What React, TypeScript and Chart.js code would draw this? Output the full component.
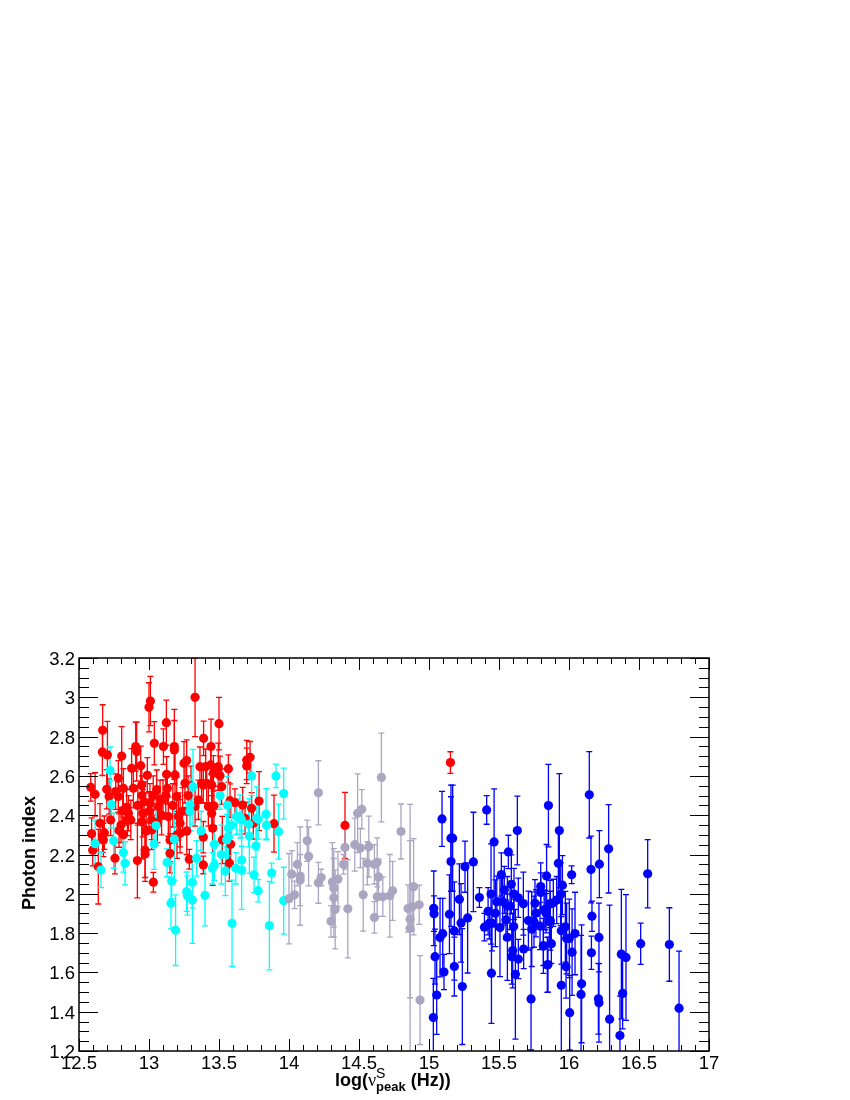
import React, { useEffect, useRef } from "react";
import { Chart, registerables } from "chart.js";

Chart.register(...registerables);

// each row: log(nu_peak), photon index, error on the index
const bluePoints = [
[15.031,1.37,.2],[15.034,1.926,.19],[15.036,1.899,.09],[15.043,1.68,.14],[15.055,1.485,.2],[15.079,1.777,.2],[15.098,1.797,.18],[15.093,2.381,.14],[15.107,1.602,.09],[15.146,1.896,.2],[15.157,2.283,.27],[15.169,2.283,.27],[15.157,2.164,.33],[15.181,1.811,.25],[15.181,1.63,.15],[15.217,1.972,.18],[15.229,1.852,.2],[15.238,1.528,.295],[15.257,2.138,.13],[15.276,1.877,.28],[15.317,2.162,.253],[15.36,1.981,.05],[15.412,2.427,.073],[15.396,1.83,.07],[15.422,1.911,.12],[15.431,1.85,.08],[15.443,1.999,.255],[15.446,1.596,.255],[15.465,2.264,.27],[15.45,1.85,.14],[15.474,1.901,.17],[15.484,1.96,.13],[15.507,1.828,.25],[15.517,2.098,.11],[15.526,1.96,.12],[15.538,2.02,.12],[15.55,1.867,.1],[15.56,1.938,.15],[15.56,1.779,.22],[15.567,2.213,.085],[15.579,1.938,.12],[15.588,2.048,.15],[15.591,1.68,.14],[15.598,1.711,.19],[15.605,1.833,.14],[15.617,1.59,.33],[15.631,2.322,.175],[15.607,1.999,.13],[15.638,1.98,.1],[15.638,1.668,.1],[15.674,1.95,.16],[15.676,1.719,.1],[15.71,1.864,.15],[15.729,1.465,.26],[15.734,1.82,.19],[15.757,1.952,.12],[15.764,1.901,.12],[15.75,1.858,.13],[15.793,1.836,.12],[15.798,2.037,.12],[15.798,2.006,.1],[15.817,1.735,.14],[15.822,1.918,.1],[15.836,1.901,.1],[15.84,2.091,.16],[15.853,2.449,.21],[15.845,1.638,.14],[15.86,1.858,.11],
[15.931,2.322,.29],[15.924,2.155,.17],[15.953,2.044,.15],[15.941,1.998,.16],[15.912,1.968,.12],[15.888,1.954,.12],[15.864,1.948,.12],[15.829,1.917,.1],[15.867,1.863,.15],[15.945,1.534,.35],[15.945,1.812,.17],[15.974,1.832,.18],[15.983,1.773,.18],[16.002,1.773,.2],[16.019,2.097,.045],[16.022,1.703,.22],[16.043,1.798,.21],[15.979,1.629,.16],[16.005,1.395,.19],[15.874,1.746,.1],[15.85,1.64,.14],[15.817,1.735,.1],[16.09,1.542,.3],[16.086,1.488,.3],[16.145,2.504,.22],[16.157,2.124,.17],[16.164,1.886,.077],[16.16,1.7,.085],[16.217,2.151,.17],[16.214,1.778,.175],[16.21,1.466,.18],[16.214,1.445,.2],[16.283,2.229,.225],[16.29,1.362,.58],[16.364,1.279,.2],[16.374,1.693,.33],[16.407,1.676,.32],[16.383,1.493,.18],[16.512,1.746,.105],[16.562,2.102,.174],[16.717,1.742,.187],[16.786,1.418,.29]
];

const redPoints = [
[15.153,2.668,.055],[14.4,2.348,.168],
[12.584,2.542,.07],[12.615,2.506,.11],[12.59,2.306,.08],[12.598,2.222,.08],[12.638,2.138,.19],[12.65,2.359,.1],[12.669,2.832,.13],[12.667,2.722,.12],[12.703,2.707,.17],[12.698,2.532,.1],[12.681,2.311,.085],[12.674,2.274,.085],[12.669,2.291,.08],[12.715,2.495,.09],[12.726,2.376,.08],[12.757,2.181,.08],[12.781,2.588,.09],[12.805,2.701,.15],[12.762,2.52,.09],[12.781,2.495,.08],[12.786,2.322,.085],[12.817,2.537,.1],[12.817,2.3,.09],[12.812,2.423,.1],[12.853,2.41,.09],[12.846,2.376,.08],[12.87,2.376,.1],[12.876,2.639,.1],[12.888,2.537,.1],[12.905,2.749,.125],[12.912,2.724,.15],[12.917,2.169,.19],[12.941,2.652,.1],[12.948,2.554,.1],[12.955,2.41,.12],[12.948,2.367,.19],[12.972,2.223,.14],[12.972,2.203,.14],[12.965,2.469,.1],[12.988,2.603,.09],[13.0,2.949,.125],[13.01,2.981,.125],[13.007,2.461,.1],[13.019,2.376,.1],[13.031,2.059,.05],[13.038,2.766,.11],[13.055,2.53,.1],[13.019,2.325,.1],[13.067,2.444,.1],[13.079,2.478,.1],[13.103,2.749,.09],[13.124,2.871,.115],[13.126,2.608,.09],[13.131,2.537,.08],[13.138,2.393,.1],[13.15,2.274,.11],[13.15,2.206,.1],[13.181,2.749,.19],[13.181,2.732,.15],[13.186,2.605,.12],[13.198,2.495,.1],[13.21,2.393,.12],[13.222,2.359,.12],[13.222,2.308,.1],[13.25,2.664,.11],[13.269,2.678,.105],[13.257,2.562,.1],[13.288,2.176,.05],[13.329,3.0,.2],
[13.5,2.866,.134],[13.39,2.791,.088],[13.443,2.749,.14],[13.364,2.647,.1],[13.405,2.647,.09],[13.44,2.656,.1],[13.46,2.613,.09],[13.495,2.647,.12],[13.507,2.601,.1],[13.567,2.637,.07],[13.698,2.681,.1],[13.722,2.695,.08],[13.698,2.651,.09],[13.376,2.562,.1],[13.412,2.562,.1],[13.448,2.554,.09],[13.388,2.554,.09],[13.519,2.545,.09],[13.353,2.478,.1],[13.329,2.444,.1],[13.424,2.444,.1],[13.464,2.447,.1],[13.448,2.41,.09],[13.455,2.333,.29],[13.388,2.288,.08],[13.388,2.147,.045],[13.574,2.155,.09],[13.524,2.274,.12],[13.583,2.252,.09],[13.579,2.474,.085],[13.614,2.464,.07],[13.669,2.452,.09],[13.733,2.435,.08],[13.786,2.472,.15],[13.893,2.357,.145],[13.686,2.384,.08],[13.745,2.359,.08],
[12.95,2.5,.1],[13.03,2.5,.1],[13.1,2.48,.1],[12.92,2.45,.1],[13.0,2.42,.1],[12.84,2.44,.09],[12.8,2.35,.09],[13.09,2.4,.1],[13.17,2.45,.11],[13.24,2.42,.12],[13.28,2.5,.1],[13.3,2.55,.1],[13.27,2.32,.12],[13.2,2.3,.12],[13.06,2.36,.1],[12.98,2.32,.1],[13.12,2.5,.1]
];

const cyanPoints = [
[13.733,2.6,.1],[13.907,2.6,.06],[13.962,2.51,.13],[13.926,2.316,.14],[13.836,2.405,.13],[13.84,2.349,.07],[13.876,2.106,.05],[13.962,1.965,.17],[13.86,1.838,.225],[13.593,1.85,.22],[13.78,2.016,.057],[13.75,2.096,.09],[13.764,2.244,.14],[13.77,2.384,.16],[13.78,2.379,.1],[13.717,2.294,.19],[13.712,2.354,.115],[13.662,2.121,.2],[13.662,2.172,.07],[13.62,2.13,.08],[13.545,2.116,.125],[13.517,2.2,.15],[13.467,2.252,.08],[13.467,2.147,.08],[13.453,2.13,.08],[13.4,1.992,.155],[13.372,2.32,.1],[13.34,2.18,.09],[13.31,2.058,.13],[13.31,1.968,.22],[13.314,2.545,.19],[13.507,2.5,.07],[13.56,2.452,.145],[13.293,2.452,.13],[13.293,2.42,.1],[13.567,2.333,.14],[13.59,2.35,.11],[13.567,2.29,.15],[13.555,2.274,.13],[13.626,2.393,.09],[13.65,2.393,.11],[13.662,2.376,.09],
[12.722,2.627,.12],[12.729,2.455,.12],[12.615,2.255,.12],[12.657,2.121,.09],[12.748,2.27,.14],[12.817,2.21,.1],[12.829,2.155,.11],[13.05,2.347,.1],[13.036,2.254,.13],[13.181,2.279,.21],[13.129,2.159,.07],[13.162,2.065,.09],[13.157,1.952,.13],[13.269,2.011,.1],[13.274,1.991,.1],[13.19,1.815,.18]
];

const grayPoints = [
[14.0,1.975,.23],[14.04,1.995,.07],[14.02,2.1,.12],[14.06,2.15,.11],[14.08,2.09,.25],[14.08,2.07,.13],[14.13,2.27,.105],[14.14,2.19,.15],[14.21,2.514,.163],[14.21,2.056,.104],[14.23,2.083,.042],[14.3,1.86,.08],[14.31,2.06,.2],[14.32,2.03,.2],[14.32,1.98,.2],[14.33,1.92,.2],[14.35,2.075,.14],[14.4,2.236,.11],[14.39,2.15,.05],[14.42,1.924,.25],[14.47,2.25,.135],[14.49,2.41,.2],[14.52,2.43,.1],[14.51,2.233,.1],[14.53,1.995,.185],[14.57,2.24,.155],[14.56,2.155,.11],[14.61,1.88,.08],[14.61,2.15,.1],[14.63,2.16,.125],[14.64,2.086,.09],[14.63,1.985,.1],[14.66,2.592,.226],[14.67,1.985,.1],[14.72,1.99,.21],[14.74,2.015,.15],[14.8,2.317,.14],[14.85,1.925,.12],[14.89,2.036,.245],[14.88,1.934,.12],[14.865,1.871,.4],[14.865,1.825,.63],[14.93,1.944,.1],[14.936,1.459,.226]
];

const xTickLabels: Record<string, string> = { "12.5": "12.5", "13": "13", "13.5": "13.5", "14": "14", "14.5": "14.5", "15": "15", "15.5": "15.5", "16": "16", "16.5": "16.5", "17": "17" };
const xAxisRange = [12.5, 17];
const yAxisRange = [1.2, 3.2];
const yAxisTitle = "Photon index";
const FONT = '"Liberation Sans", Arial, sans-serif';

const series = [
  { name: "HBL", rows: bluePoints, color: "#0000ff" },
  { name: "LBL", rows: redPoints, color: "#ff0000" },
  { name: "FSRQ", rows: cyanPoints, color: "#00ffff" },
  { name: "IBL", rows: grayPoints, color: "#aaa6c2" },
];

const framePlugin = {
  id: "frame",
  // error bars are drawn from the same rows, through the chart's scales
  beforeDatasetsDraw(chart: any) {
    const { ctx, chartArea: a, scales } = chart;
    ctx.save();
    ctx.beginPath();
    ctx.rect(a.left, a.top, a.right - a.left, a.bottom - a.top);
    ctx.clip();
    ctx.lineWidth = 1.3;
    series.forEach((s) => {
      ctx.strokeStyle = s.color;
      s.rows.forEach(([x, y, e]) => {
        const px = scales.x.getPixelForValue(x);
        const hi = scales.y.getPixelForValue(y + e);
        const lo = scales.y.getPixelForValue(y - e);
        ctx.beginPath();
        ctx.moveTo(px, hi);
        ctx.lineTo(px, lo);
        ctx.moveTo(px - 3, hi);
        ctx.lineTo(px + 3, hi);
        ctx.moveTo(px - 3, lo);
        ctx.lineTo(px + 3, lo);
        ctx.stroke();
      });
    });
    ctx.restore();
  },
  afterDraw(chart: any) {
    const { ctx, chartArea: a, scales } = chart;
    ctx.save();
    ctx.strokeStyle = "#000";
    ctx.lineWidth = 1;
    ctx.beginPath();
    for (let i = 0; i <= 45; i++) {
      const v = xAxisRange[0] + i * 0.1;
      const px = Math.round(scales.x.getPixelForValue(v)) + 0.5;
      const len = i % 5 === 0 ? 12 : 6;
      ctx.moveTo(px, a.bottom);
      ctx.lineTo(px, a.bottom - len);
      ctx.moveTo(px, a.top);
      ctx.lineTo(px, a.top + len);
    }
    for (let i = 0; i <= 40; i++) {
      const v = yAxisRange[0] + i * 0.05;
      const py = Math.round(scales.y.getPixelForValue(v)) + 0.5;
      const len = i % 4 === 0 ? 19 : 10;
      ctx.moveTo(a.left, py);
      ctx.lineTo(a.left + len, py);
      ctx.moveTo(a.right, py);
      ctx.lineTo(a.right - len, py);
    }
    ctx.stroke();
    ctx.lineWidth = 1.5;
    ctx.strokeRect(a.left, a.top, a.right - a.left, a.bottom - a.top);

    ctx.fillStyle = "#000";
    ctx.textBaseline = "alphabetic";
    ctx.textAlign = "left";
    let x = 335;
    const base = 1086;
    const piece = (t: string, font: string, dy = 0) => {
      ctx.font = font;
      ctx.fillText(t, x, base + dy);
      x += ctx.measureText(t).width;
    };
    piece("log(", `bold 18px ${FONT}`);
    piece("ν", `18px "Liberation Serif", serif`);
    const xs = x;
    piece("S", `14px ${FONT}`, -8);
    x = xs;
    piece("peak", `bold 13px ${FONT}`, 5);
    piece(" (Hz))", `bold 18px ${FONT}`);

    ctx.translate(35, 853);
    ctx.rotate(-Math.PI / 2);
    ctx.textAlign = "center";
    ctx.font = `bold 18px ${FONT}`;
    ctx.fillText(yAxisTitle, 0, 0);
    ctx.restore();
  },
};

export default function App() {
  const ref = useRef<HTMLCanvasElement>(null);
  useEffect(() => {
    const chart = new Chart(ref.current as HTMLCanvasElement, {
      type: "scatter",
      data: {
        datasets: series.map((s, i) => ({
          label: s.name,
          data: s.rows.map(([x, y]) => ({ x, y })),
          backgroundColor: s.color,
          borderColor: s.color,
          pointRadius: 4.6,
          pointBorderWidth: 0,
          order: series.length - i,
        })),
      },
      options: {
        responsive: false,
        animation: false,
        layout: { padding: { left: 0, top: 658, right: 141, bottom: 0 } },
        plugins: { legend: { display: false }, tooltip: { enabled: false } },
        scales: {
          x: {
            type: "linear",
            min: xAxisRange[0],
            max: xAxisRange[1],
            afterFit: (s: any) => { s.height = 49; },
            border: { display: false },
            grid: { display: false, drawTicks: false },
            ticks: {
              stepSize: 0.5,
              autoSkip: false,
              maxRotation: 0,
              padding: 2,
              color: "#000",
              font: { family: FONT, size: 18.5 },
              callback: (v: any) => xTickLabels[String(+(+v).toFixed(1))],
            },
          },
          y: {
            type: "linear",
            min: yAxisRange[0],
            max: yAxisRange[1],
            afterFit: (s: any) => { s.width = 79; },
            border: { display: false },
            grid: { display: false, drawTicks: false },
            ticks: {
              stepSize: 0.2,
              autoSkip: false,
              padding: 4,
              labelOffset: 2,
              color: "#000",
              font: { family: FONT, size: 18.5 },
              callback: (v: any) => String(+(+v).toFixed(1)),
            },
          },
        },
      },
      plugins: [framePlugin],
    } as any);
    return () => chart.destroy();
  }, []);
  return (
    <div style={{ position: "absolute", left: 0, top: 0, width: 850, height: 1100 }}>
      <canvas ref={ref} width={850} height={1100} style={{ display: "block" }} />
    </div>
  );
}
